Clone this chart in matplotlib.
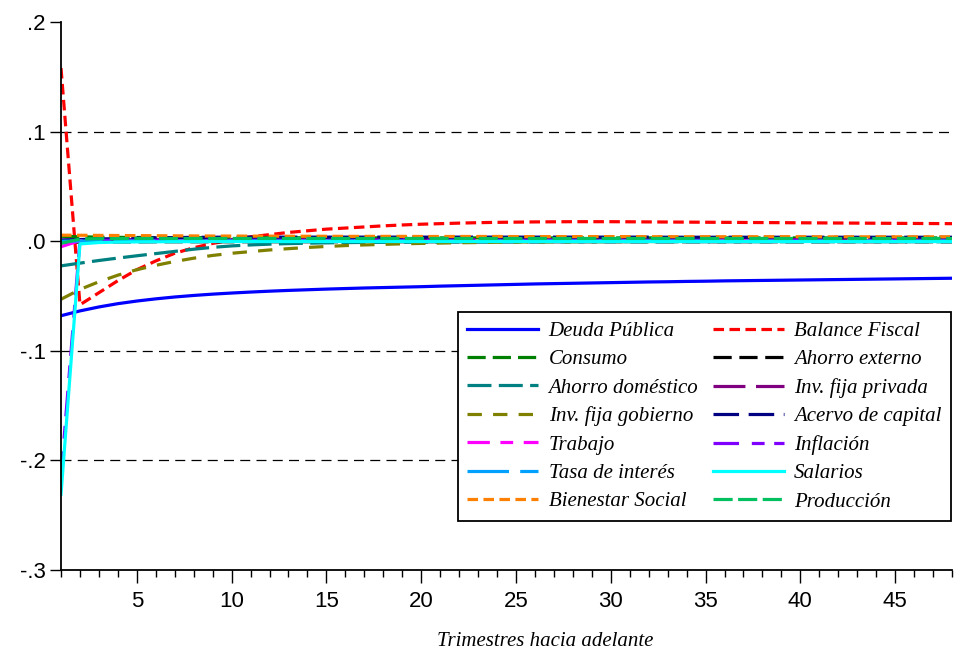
import matplotlib
matplotlib.use("Agg")
import matplotlib.pyplot as plt
from matplotlib.ticker import MultipleLocator, FixedLocator

periods = list(range(1, 49))

deuda_publica = [-0.0680, -0.0636, -0.0600, -0.0570, -0.0546, -0.0526, -0.0509, -0.0495, -0.0483, -0.0473,
                 -0.0464, -0.0456, -0.0449, -0.0443, -0.0437, -0.0432, -0.0427, -0.0423, -0.0419, -0.0415,
                 -0.0410, -0.0406, -0.0402, -0.0398, -0.0394, -0.0390, -0.0387, -0.0384, -0.0381, -0.0378,
                 -0.0375, -0.0372, -0.0370, -0.0367, -0.0365, -0.0362, -0.0360, -0.0358, -0.0356, -0.0354,
                 -0.0352, -0.0350, -0.0348, -0.0346, -0.0344, -0.0342, -0.0340, -0.0338]
balance_fiscal = [0.158, -0.058, -0.047, -0.036, -0.026, -0.018, -0.011, -0.006, -0.002, 0.001,
                  0.004, 0.006, 0.008, 0.0095, 0.011, 0.012, 0.013, 0.014, 0.0148, 0.0155,
                  0.016, 0.0165, 0.0169, 0.0172, 0.0174, 0.0176, 0.0177, 0.0178, 0.0178, 0.0178,
                  0.0177, 0.0176, 0.0175, 0.0174, 0.0173, 0.0172, 0.0171, 0.0170, 0.0169, 0.0168,
                  0.0167, 0.0166, 0.0165, 0.0164, 0.0163, 0.0162, 0.0161, 0.0160]
consumo = [0.0045, 0.0040, 0.0037, 0.0035, 0.0034, 0.0033, 0.0033, 0.0032, 0.0032, 0.0032,
           0.0031, 0.0031, 0.0031, 0.0031, 0.0030, 0.0030, 0.0030, 0.0030, 0.0030, 0.0030,
           0.0030, 0.0030, 0.0030, 0.0030, 0.0030, 0.0030, 0.0030, 0.0030, 0.0030, 0.0030,
           0.0030, 0.0030, 0.0030, 0.0030, 0.0030, 0.0030, 0.0030, 0.0030, 0.0030, 0.0030,
           0.0030, 0.0030, 0.0030, 0.0030, 0.0030, 0.0030, 0.0030, 0.0030]
ahorro_externo = [-0.0010, -0.0008, -0.0007, -0.0006, -0.0006, -0.0005, -0.0005, -0.0005, -0.0005, -0.0005,
                  -0.0005, -0.0005, -0.0005, -0.0005, -0.0005, -0.0005, -0.0005, -0.0005, -0.0005, -0.0005,
                  -0.0005, -0.0005, -0.0005, -0.0005, -0.0005, -0.0005, -0.0005, -0.0005, -0.0005, -0.0005,
                  -0.0005, -0.0005, -0.0005, -0.0005, -0.0005, -0.0005, -0.0005, -0.0005, -0.0005, -0.0005,
                  -0.0005, -0.0005, -0.0005, -0.0005, -0.0005, -0.0005, -0.0005, -0.0005]
ahorro_domestico = [-0.0225, -0.0200, -0.0176, -0.0154, -0.0133, -0.0113, -0.0093, -0.0073, -0.0056, -0.0043,
                    -0.0034, -0.0027, -0.0022, -0.0018, -0.0015, -0.0013, -0.0011, -0.0010, -0.0009, -0.0008,
                    -0.0008, -0.0007, -0.0007, -0.0006, -0.0006, -0.0006, -0.0005, -0.0005, -0.0005, -0.0005,
                    -0.0005, -0.0005, -0.0005, -0.0005, -0.0005, -0.0005, -0.0005, -0.0005, -0.0005, -0.0005,
                    -0.0005, -0.0005, -0.0005, -0.0005, -0.0005, -0.0005, -0.0005, -0.0005]
inv_fija_privada = [0.0010, 0.0012, 0.0013, 0.0014, 0.0015, 0.0015, 0.0015, 0.0015, 0.0015, 0.0015,
                    0.0015, 0.0015, 0.0015, 0.0015, 0.0015, 0.0015, 0.0015, 0.0015, 0.0015, 0.0015,
                    0.0015, 0.0015, 0.0015, 0.0015, 0.0015, 0.0015, 0.0015, 0.0015, 0.0015, 0.0015,
                    0.0015, 0.0015, 0.0015, 0.0015, 0.0015, 0.0015, 0.0015, 0.0015, 0.0015, 0.0015,
                    0.0015, 0.0015, 0.0015, 0.0015, 0.0015, 0.0015, 0.0015, 0.0015]
inv_fija_gobierno = [-0.0530, -0.0440, -0.0370, -0.0310, -0.0260, -0.0220, -0.0185, -0.0155, -0.0130, -0.0110,
                     -0.0095, -0.0080, -0.0068, -0.0057, -0.0048, -0.0040, -0.0034, -0.0029, -0.0024, -0.0020,
                     -0.0017, -0.0014, -0.0012, -0.0010, -0.0008, -0.0007, -0.0006, -0.0005, -0.0004, -0.0004,
                     -0.0003, -0.0003, -0.0003, -0.0002, -0.0002, -0.0002, -0.0002, -0.0002, -0.0002, -0.0002,
                     -0.0002, -0.0002, -0.0002, -0.0002, -0.0002, -0.0002, -0.0002, -0.0002]
acervo_capital = [0.0010, 0.0015, 0.0020, 0.0024, 0.0028, 0.0031, 0.0033, 0.0035, 0.0036, 0.0037,
                  0.0037, 0.0037, 0.0037, 0.0037, 0.0037, 0.0037, 0.0037, 0.0037, 0.0037, 0.0037,
                  0.0037, 0.0037, 0.0037, 0.0037, 0.0037, 0.0037, 0.0037, 0.0037, 0.0037, 0.0037,
                  0.0037, 0.0037, 0.0036, 0.0036, 0.0036, 0.0036, 0.0036, 0.0036, 0.0036, 0.0036,
                  0.0036, 0.0036, 0.0036, 0.0036, 0.0036, 0.0036, 0.0036, 0.0036]
trabajo = [-0.0050, 0.0005, 0.0005, 0.0005, 0.0005, 0.0005, 0.0005, 0.0005, 0.0005, 0.0005,
           0.0005, 0.0005, 0.0005, 0.0005, 0.0005, 0.0005, 0.0005, 0.0005, 0.0005, 0.0005,
           0.0005, 0.0005, 0.0005, 0.0005, 0.0005, 0.0005, 0.0005, 0.0005, 0.0005, 0.0005,
           0.0005, 0.0005, 0.0005, 0.0005, 0.0005, 0.0005, 0.0005, 0.0005, 0.0005, 0.0005,
           0.0005, 0.0005, 0.0005, 0.0005, 0.0005, 0.0005, 0.0005, 0.0005]
inflacion = [-0.2150, 0.0008, 0.0008, 0.0008, 0.0008, 0.0008, 0.0008, 0.0008, 0.0008, 0.0008,
             0.0008, 0.0008, 0.0008, 0.0008, 0.0008, 0.0008, 0.0008, 0.0008, 0.0008, 0.0008,
             0.0008, 0.0008, 0.0008, 0.0008, 0.0008, 0.0008, 0.0008, 0.0008, 0.0008, 0.0008,
             0.0008, 0.0008, 0.0008, 0.0008, 0.0008, 0.0008, 0.0008, 0.0008, 0.0008, 0.0008,
             0.0008, 0.0008, 0.0008, 0.0008, 0.0008, 0.0008, 0.0008, 0.0008]
tasa_interes = [0.0000, 0.0002, 0.0002, 0.0002, 0.0002, 0.0002, 0.0002, 0.0002, 0.0002, 0.0002,
                0.0002, 0.0002, 0.0002, 0.0002, 0.0002, 0.0002, 0.0002, 0.0002, 0.0002, 0.0002,
                0.0002, 0.0002, 0.0002, 0.0002, 0.0002, 0.0002, 0.0002, 0.0002, 0.0002, 0.0002,
                0.0002, 0.0002, 0.0002, 0.0002, 0.0002, 0.0002, 0.0002, 0.0002, 0.0002, 0.0002,
                0.0002, 0.0002, 0.0002, 0.0002, 0.0002, 0.0002, 0.0002, 0.0002]
salarios = [-0.2310, -0.0025, -0.0012, -0.0008, -0.0006, -0.0005, -0.0004, -0.0004, -0.0003, -0.0003,
            -0.0003, -0.0003, -0.0003, -0.0003, -0.0003, -0.0003, -0.0003, -0.0003, -0.0003, -0.0003,
            -0.0003, -0.0003, -0.0003, -0.0003, -0.0003, -0.0003, -0.0003, -0.0003, -0.0003, -0.0003,
            -0.0003, -0.0003, -0.0003, -0.0003, -0.0003, -0.0003, -0.0003, -0.0003, -0.0003, -0.0003,
            -0.0003, -0.0003, -0.0003, -0.0003, -0.0003, -0.0003, -0.0003, -0.0003]
bienestar_social = [0.0055, 0.0054, 0.0053, 0.0052, 0.0051, 0.0050, 0.0049, 0.0048, 0.0047, 0.0047,
                    0.0046, 0.0046, 0.0045, 0.0045, 0.0045, 0.0044, 0.0044, 0.0044, 0.0044, 0.0043,
                    0.0043, 0.0043, 0.0043, 0.0043, 0.0042, 0.0042, 0.0042, 0.0042, 0.0042, 0.0042,
                    0.0042, 0.0041, 0.0041, 0.0041, 0.0041, 0.0041, 0.0041, 0.0041, 0.0041, 0.0041,
                    0.0040, 0.0040, 0.0040, 0.0040, 0.0040, 0.0040, 0.0040, 0.0040]
produccion = [-0.0020, 0.0020, 0.0023, 0.0024, 0.0025, 0.0025, 0.0025, 0.0025, 0.0025, 0.0025,
              0.0025, 0.0025, 0.0025, 0.0025, 0.0025, 0.0025, 0.0025, 0.0025, 0.0025, 0.0025,
              0.0025, 0.0025, 0.0025, 0.0025, 0.0025, 0.0025, 0.0025, 0.0025, 0.0025, 0.0025,
              0.0025, 0.0025, 0.0025, 0.0025, 0.0025, 0.0025, 0.0025, 0.0025, 0.0025, 0.0025,
              0.0025, 0.0025, 0.0025, 0.0025, 0.0025, 0.0025, 0.0025, 0.0025]

series_labels = ["Deuda Pública", "Balance Fiscal", "Consumo", "Ahorro externo",
                 "Ahorro doméstico", "Inv. fija privada", "Inv. fija gobierno", "Acervo de capital",
                 "Trabajo", "Inflación", "Tasa de interés", "Salarios",
                 "Bienestar Social", "Producción"]
series_values = [deuda_publica, balance_fiscal, consumo, ahorro_externo,
                 ahorro_domestico, inv_fija_privada, inv_fija_gobierno, acervo_capital,
                 trabajo, inflacion, tasa_interes, salarios,
                 bienestar_social, produccion]
colors = ["#0000FF", "#FF0000", "#008000", "#000000",
          "#008080", "#800080", "#808000", "#000080",
          "#FF00FF", "#8000FF", "#00A0FF", "#00FFFF",
          "#FF8000", "#00C060"]
dashes = [None, (3.3, 1.7), (5.7, 2.2), (5.7, 2.4),
          (7.5, 2.3), (10, 3.3), (4.5, 3.5), (8, 3),
          (7, 3.3, 4, 3.3), (8, 4, 4, 3), (13, 3.5), None,
          (3.3, 1.7), (6, 1.7)]

y_ticks = [-0.3, -0.2, -0.1, 0.0, 0.1, 0.2]
y_ticklabels = ["-.3", "-.2", "-.1", ".0", ".1", ".2"]
x_ticks = [5, 10, 15, 20, 25, 30, 35, 40, 45]
x_label = "Trimestres hacia adelante"

tick_font = ["Liberation Sans Narrow", "Liberation Sans", "DejaVu Sans"]
serif_font = ["Liberation Serif", "DejaVu Serif"]

fig = plt.figure(figsize=(9.58, 6.55), dpi=100)
ax = fig.add_axes([61 / 958, 85 / 655, (952 - 61) / 958, (570 - 22) / 655])

for yv in [0.1, 0.0, -0.1, -0.2]:
    ax.axhline(yv, color="black", lw=0.9, ls=(0, (8, 5)), zorder=1)

lw = 2.3
handles = []
for i, (lab, vals, col, ds) in enumerate(zip(series_labels, series_values, colors, dashes)):
    if ds is None:
        ln, = ax.plot(periods, vals, color=col, lw=lw, ls="-", label=lab, zorder=2 + i * 0.01)
    else:
        ln, = ax.plot(periods, vals, color=col, lw=lw, ls=(0, ds), label=lab, zorder=2 + i * 0.01)
    ln.set_dash_capstyle("butt")
    handles.append(ln)

ax.set_xlim(1, 48)
ax.set_ylim(-0.3, 0.2)
ax.spines["top"].set_visible(False)
ax.spines["right"].set_visible(False)
ax.spines["left"].set_linewidth(1.3)
ax.spines["bottom"].set_linewidth(1.3)

ax.yaxis.set_major_locator(FixedLocator(y_ticks))
ax.set_yticklabels(y_ticklabels, fontfamily=tick_font, fontsize=16)
ax.xaxis.set_major_locator(FixedLocator(x_ticks))
ax.xaxis.set_minor_locator(MultipleLocator(1))
ax.set_xticklabels([str(v) for v in x_ticks], fontfamily=tick_font, fontsize=16)
ax.tick_params(axis="x", which="major", direction="out", length=9, width=1, pad=6)
ax.tick_params(axis="x", which="minor", direction="out", length=5, width=1)
ax.tick_params(axis="y", which="major", direction="out", length=8, width=1, pad=3)

fig.text(545 / 958, (655 - 641) / 655, x_label, ha="center", va="center",
         fontfamily=serif_font, fontstyle="italic", fontsize=15)

# legend filled row by row (two columns)
leg_order = list(range(0, len(handles), 2)) + list(range(1, len(handles), 2))
leg_handles = [handles[k] for k in leg_order]
leg = ax.legend(handles=leg_handles, ncol=2, loc="upper left",
                bbox_to_anchor=(458 / 958, (655 - 312) / 655), bbox_transform=fig.transFigure,
                prop={"family": serif_font, "style": "italic", "size": 15},
                frameon=True, fancybox=False, edgecolor="black", framealpha=1,
                handlelength=3.4, handletextpad=0.5, labelspacing=0.42,
                columnspacing=0.7, borderpad=0.45, borderaxespad=0)
leg.get_frame().set_linewidth(1.3)

fig.savefig("out.png", dpi=100)
